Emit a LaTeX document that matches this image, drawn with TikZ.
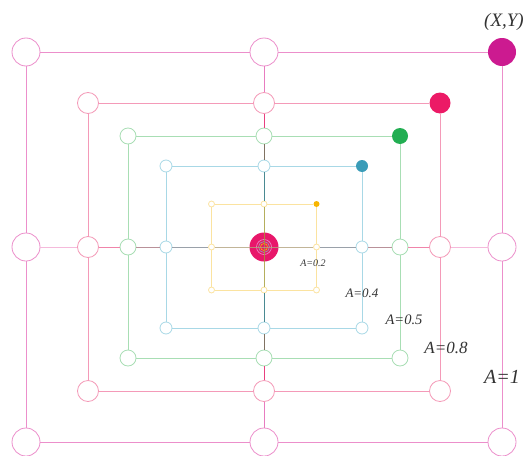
\documentclass[tikz,border=0pt]{standalone}
\usepackage{fontspec}
\setmainfont{Liberation Serif}
\usetikzlibrary{positioning}
\definecolor{lineA}{HTML}{EC8FCB}
\definecolor{fillA}{HTML}{CC1A90}
\definecolor{lineB}{HTML}{F49AB8}
\definecolor{fillB}{HTML}{EC1A66}
\definecolor{lineC}{HTML}{A8DEB4}
\definecolor{fillC}{HTML}{22AE52}
\definecolor{lineD}{HTML}{A8D8E6}
\definecolor{fillD}{HTML}{3A9CB8}
\definecolor{lineE}{HTML}{FBE3A0}
\definecolor{fillE}{HTML}{F7B500}
\definecolor{vAB}{HTML}{E87CC0}
\definecolor{vBC}{HTML}{E8407F}
\definecolor{vCD}{HTML}{807262}
\definecolor{vDE}{HTML}{4A8A92}
\definecolor{vEE}{HTML}{A39B35}
\definecolor{hAB}{HTML}{F5BADB}
\definecolor{hBC}{HTML}{F084AA}
\definecolor{hCD}{HTML}{B99199}
\definecolor{hDE}{HTML}{9AA1AA}
\definecolor{hEE}{HTML}{B3A37E}
\definecolor{centre}{HTML}{E8176A}
\definecolor{ink}{HTML}{333333}
\tikzset{
    ring/.style={
        circle,
        draw=#1,
        fill=white,
        line width=0.8pt,
        inner sep=0pt
    },
    dot/.style={
        circle,
        fill=#1,
        inner sep=0pt
    },
    edge/.style={line width=0.9pt, draw=#1},
    lbl/.style={text=ink, inner sep=0pt, font=\itshape\fontsize{#1}{#1}\selectfont}
}

\begin{document}
\begin{tikzpicture}[x=1pt,y=-1pt]
    \useasboundingbox (0,0) rectangle (532,455);
    % squares, from A=1 inwards
    \foreach \n/\w/\h/\r/\c/\f in {a/238/195/14/lineA/fillA, b/176/144/10.5/lineB/fillB,
        c/136/111/8/lineC/fillC, d/98/81/6/lineD/fillD, e/52.5/43/3/lineE/fillE}{
        \node[ring=\c, minimum size=2*\r pt] (\n-nw) at (264-\w,247-\h) {};
        \node[ring=\c, minimum size=2*\r pt] (\n-n) at (264,247-\h) {};
        \node[dot=\f, minimum size=2*\r pt] (\n-ne) at (264+\w,247-\h) {};
        \node[ring=\c, minimum size=2*\r pt] (\n-e) at (264+\w,247) {};
        \node[ring=\c, minimum size=2*\r pt] (\n-se) at (264+\w,247+\h) {};
        \node[ring=\c, minimum size=2*\r pt] (\n-s) at (264,247+\h) {};
        \node[ring=\c, minimum size=2*\r pt] (\n-sw) at (264-\w,247+\h) {};
        \node[ring=\c, minimum size=2*\r pt] (\n-w) at (264-\w,247) {};
        \draw[edge=\c] (\n-nw) -- (\n-n) -- (\n-ne) -- (\n-e) -- (\n-se)
            -- (\n-s) -- (\n-sw) -- (\n-w) -- (\n-nw);
    }
    % cross between the squares
    \foreach \p/\q/\v/\hc in {a/b/vAB/hAB, b/c/vBC/hBC, c/d/vCD/hCD, d/e/vDE/hDE}{
        \draw[edge=\v] (\p-n) -- (\q-n);
        \draw[edge=\v] (\p-s) -- (\q-s);
        \draw[edge=\hc] (\p-w) -- (\q-w);
        \draw[edge=\hc] (\p-e) -- (\q-e);
    }
    \node[dot=centre, minimum size=29pt] (ctr) at (264,247) {};
    \foreach \rr/\cc in {7.5/lineA, 5.5/hDE, 3.5/fillE}{
        \draw[\cc, line width=0.6pt] (ctr) circle (\rr pt);
    }
    \draw[edge=vEE, opacity=0.8] (e-n) -- (e-s);
    \draw[edge=hEE, opacity=0.8] (e-w) -- (e-e);
    % labels
    \node[lbl=19, anchor=west] (xy) at (484,22) {(X,Y)};
    \node[lbl=10] (t02) at (313,263) {A=0.2};
    \node[lbl=13] (t04) at (362,293) {A=0.4};
    \node[lbl=14.5] (t05) at (404,320) {A=0.5};
    \node[lbl=17] (t08) at (446,348) {A=0.8};
    \node[lbl=20] (t1) at (502,377) {A=1};
\end{tikzpicture}
\end{document}
